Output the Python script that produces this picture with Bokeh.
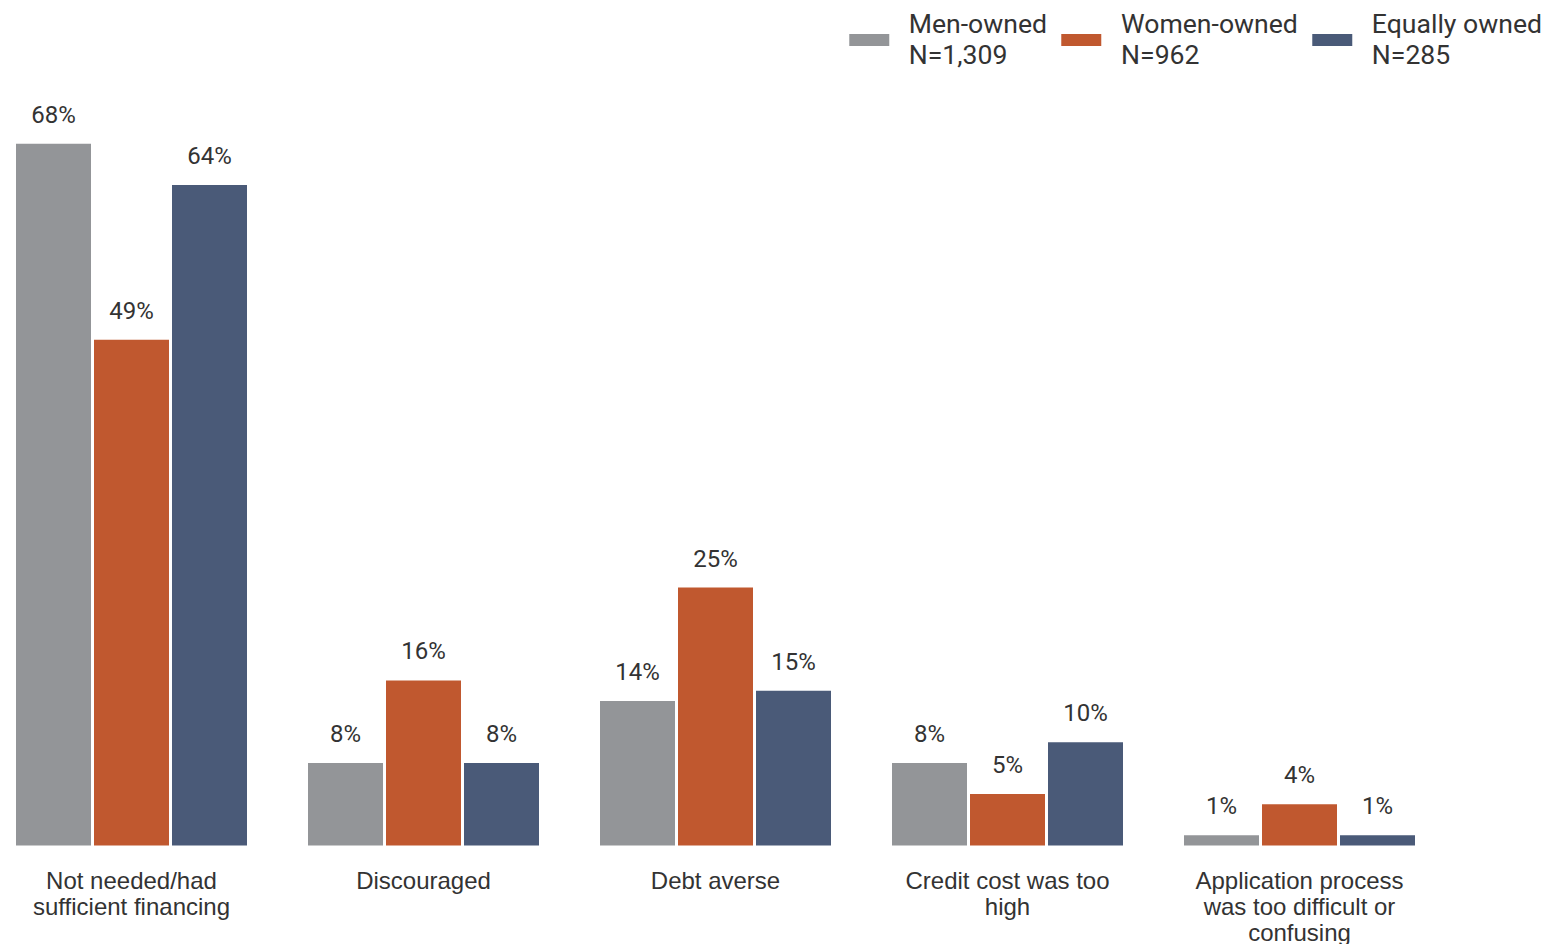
from bokeh.plotting import figure
from bokeh.models import ColumnDataSource, Range1d, FixedTicker, LabelSet, Legend, LegendItem, LinearAxis
from bokeh.core.properties import value
from bokeh.embed import file_html
from bokeh.resources import INLINE

categories = ["Not needed/had\nsufficient financing", "Discouraged", "Debt averse",
              "Credit cost was too\nhigh", "Application process\nwas too difficult or\nconfusing"]
series_names = ["Men-owned\nN=1,309", "Women-owned\nN=962", "Equally owned\nN=285"]
men = [68, 8, 14, 8, 1]
women = [49, 16, 25, 5, 4]
equal = [64, 8, 15, 10, 1]
colors = ["#939598", "#C0582F", "#4A5A78"]

px_per_unit_x = 292.0
frame_w, frame_h = 1550, 944
zero_px = 845.0
x0 = -131.0 / px_per_unit_x
ppp = 10.32
y_end = zero_px / ppp
y_start = -(frame_h - zero_px) / ppp

p = figure(width=frame_w, height=frame_h, output_backend="svg", toolbar_location=None,
           x_range=Range1d(x0, x0 + frame_w / px_per_unit_x), y_range=Range1d(y_start, y_end),
           min_border=0, min_border_left=0, min_border_right=0, min_border_top=0, min_border_bottom=0,
           x_axis_location=None, y_axis_location=None)
p.outline_line_color = None
p.xgrid.visible = False
p.ygrid.visible = False

bar_w = 75.0 / px_per_unit_x
step = 78.0 / px_per_unit_x
xs = list(range(len(categories)))
items = []
for i, (vals, col, name) in enumerate(zip([men, women, equal], colors, series_names)):
    off = (i - 1) * step
    src = ColumnDataSource(dict(x=[x + off for x in xs], top=vals,
                                lab=[f"{v}%" for v in vals]))
    r = p.vbar(x="x", top="top", bottom=0, width=bar_w, source=src, fill_color=col, line_color=None)
    items.append(LegendItem(label=name, renderers=[r]))
    ls = LabelSet(x="x", y="top", text="lab", source=src, text_align="center",
                  text_baseline="alphabetic", y_offset=21, text_font=value("Roboto"),
                  text_font_size=value("24px"), text_color="#333333")
    p.add_layout(ls)

ax = LinearAxis(fixed_location=0)
ax.ticker = FixedTicker(ticks=xs)
ax.major_label_overrides = {x: c for x, c in zip(xs, categories)}
ax.axis_line_color = None
ax.major_tick_line_color = None
ax.minor_tick_line_color = None
ax.major_label_standoff = 15
ax.major_label_text_font = "Liberation Sans"
ax.major_label_text_font_size = "24px"
ax.major_label_text_color = "#333333"
ax.major_label_text_line_height = 0.97
p.add_layout(ax, "below")

legend = Legend(items=items, orientation="horizontal", location="top_right",
                margin=8, padding=0, spacing=9, label_standoff=15,
                glyph_width=50, glyph_height=15, border_line_color=None,
                background_fill_alpha=0, label_text_font="Roboto",
                label_text_font_size="26.6px", label_text_color="#333333",
                label_text_line_height=0.93)
p.add_layout(legend)

open("out.html", "w").write(file_html(p, INLINE))
